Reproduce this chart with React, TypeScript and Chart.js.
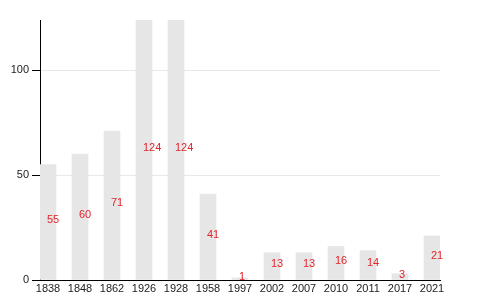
import React, { useEffect, useRef } from "react";
import { Chart, registerables } from "chart.js";

Chart.register(...registerables);

const categories = ["1838", "1848", "1862", "1926", "1928", "1958", "1997", "2002", "2007", "2010", "2011", "2017", "2021"];
const values = [55, 60, 71, 124, 124, 41, 1, 13, 13, 16, 14, 3, 21];
const yTicks = [0, 50, 100];

const FONT = "'Liberation Sans', Arial, sans-serif";

const valueLabels = {
  id: "valueLabels",
  afterDatasetsDraw(chart: any) {
    const ctx = chart.ctx;
    const meta = chart.getDatasetMeta(0);
    ctx.save();
    ctx.font = `11px ${FONT}`;
    ctx.fillStyle = "#e3242b";
    ctx.textAlign = "left";
    ctx.textBaseline = "alphabetic";
    meta.data.forEach((bar: any, i: number) => {
      const mid = (bar.y + bar.base) / 2;
      ctx.fillText(String(values[i]), bar.x - 1, mid + 1);
    });
    ctx.restore();
  },
};

export default function App() {
  const ref = useRef<HTMLCanvasElement>(null);
  useEffect(() => {
    if (!ref.current) return;
    const chart = new Chart(ref.current, {
      type: "bar",
      data: {
        datasets: [
          {
            data: values.map((v, i) => ({ x: i, y: v })),
            backgroundColor: "#e6e6e6",
            barThickness: 16,
          },
        ],
      },
      options: {
        animation: false,
        responsive: true,
        maintainAspectRatio: false,
        layout: { padding: { top: 20, right: 40, left: 0, bottom: 0 } },
        plugins: { legend: { display: false }, tooltip: { enabled: false } },
        scales: {
          x: {
            type: "linear",
            min: -0.25,
            max: 12.25,
            offset: false,
            afterBuildTicks: (scale: any) => {
              scale.ticks = categories.map((_, i) => ({ value: i }));
            },
            afterFit: (scale: any) => {
              scale.height = 20;
            },
            ticks: {
              autoSkip: false,
              maxRotation: 0,
              padding: 2,
              color: "#222",
              font: { family: FONT, size: 11 },
              callback: (v: any) => categories[v as number] ?? "",
            },
            grid: { display: false, drawTicks: false },
            border: { display: true, color: "#000", width: 1 },
          },
          y: {
            min: 0,
            max: 124,
            afterBuildTicks: (scale: any) => {
              scale.ticks = yTicks.map((v) => ({ value: v }));
            },
            afterFit: (scale: any) => {
              scale.width = 40;
            },
            ticks: {
              padding: 3,
              color: "#222",
              font: { family: FONT, size: 11 },
            },
            grid: {
              color: "#e8e8e8",
              tickColor: "#000",
              tickLength: 8,
              drawTicks: true,
            },
            border: { display: true, color: "#000", width: 1 },
          },
        },
      },
      plugins: [valueLabels],
    });
    return () => chart.destroy();
  }, []);
  return (
    <div style={{ position: "fixed", left: 0, top: 0, width: 480, height: 300 }}>
      <canvas ref={ref} />
    </div>
  );
}
